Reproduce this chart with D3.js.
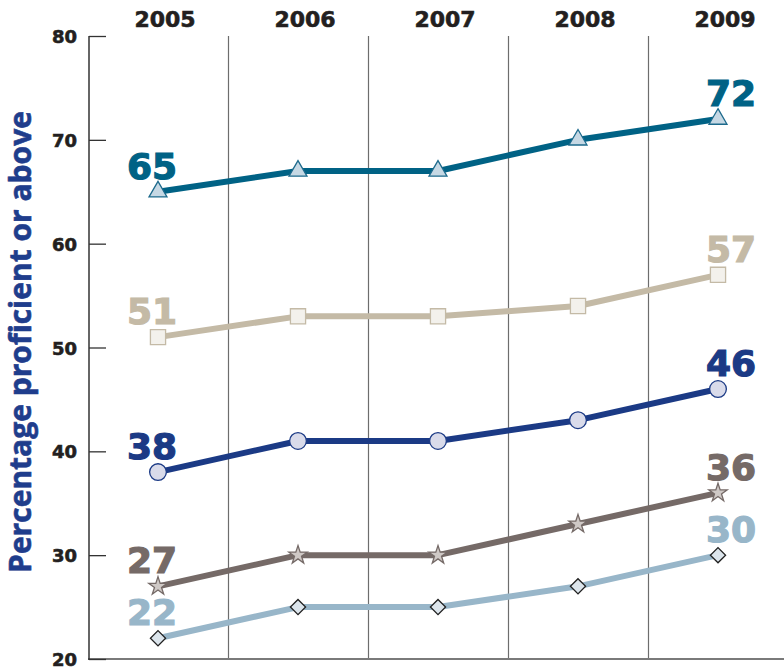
<!DOCTYPE html>
<html><head><meta charset="utf-8">
<script src="https://cdn.jsdelivr.net/npm/d3@7"></script>
<style>body{margin:0;background:#fff}svg{display:block}</style>
</head><body>
<svg id="c" width="784" height="670"></svg>
<script>
const years = ["2005","2006","2007","2008","2009"];
const yTicks = [20,30,40,50,60,70,80];
const seriesA = [65,67,67,70,72];
const seriesB = [51,53,53,54,57];
const seriesC = [38,41,41,43,46];
const seriesD = [27,30,30,33,36];
const seriesE = [22,25,25,27,30];
const yTitle = "Percentage proficient or above";

const series = [
  {vals: seriesA, line:"#006285", fill:"#c6d8e4", stroke:"#1d6a8c", sym:d3.symbolTriangle, size:140, rot:0},
  {vals: seriesB, line:"#c4baa6", fill:"#f3f1ec", stroke:"#c4baa6", sym:d3.symbolSquare, size:230, rot:0},
  {vals: seriesC, line:"#1b3a85", fill:"#d9dbea", stroke:"#1b3a85", sym:d3.symbolCircle, size:220, rot:0},
  {vals: seriesD, line:"#756a67", fill:"#cfc9c6", stroke:"#756a67", sym:d3.symbolStar, size:105, rot:0},
  {vals: seriesE, line:"#98b6c9", fill:"#dce5ec", stroke:"#222", sym:d3.symbolSquare, size:115, rot:45}
];

const svg = d3.select("#c");
const x = d3.scaleBand().domain(years).range([88,788]);
const y = d3.scaleLinear().domain([20,80]).range([659,36]);
const cx = d => x(d) + x.bandwidth()/2;

// vertical gridlines
svg.append("g").selectAll("line").data(years.slice(1)).join("line")
  .attr("x1", d=>x(d)+0.5).attr("x2", d=>x(d)+0.5)
  .attr("y1", y(80)).attr("y2", y(20))
  .attr("stroke","#6d6d6d").attr("stroke-width",1.2);

// bottom axis line
svg.append("line").attr("x1",88).attr("x2",784).attr("y1",y(20)).attr("y2",y(20))
  .attr("stroke","#7a7a7a").attr("stroke-width",2);

// y axis
const yAxis = svg.append("g").attr("transform","translate(89,0)")
  .call(d3.axisRight(y).tickValues(yTicks).tickSize(17).tickFormat(""));
yAxis.select(".domain").remove();
yAxis.selectAll(".tick line").attr("stroke","#333").attr("stroke-width",1.3);
svg.append("line").attr("x1",89).attr("x2",89).attr("y1",y(80)).attr("y2",y(20)+1)
  .attr("stroke","#333").attr("stroke-width",1.5);

// y tick labels
svg.append("g").selectAll("text").data(yTicks).join("text")
  .attr("x",77).attr("y",d=>y(d)+7)
  .attr("text-anchor","end")
  .attr("font-family","DejaVu Sans").attr("font-weight","bold").attr("font-size",18)
  .attr("fill","#231f20").attr("stroke","#231f20").attr("stroke-width",0.6).text(d=>d);

// year labels
svg.append("g").selectAll("text").data(years).join("text")
  .attr("x",d=>cx(d)+7).attr("y",27)
  .attr("text-anchor","middle")
  .attr("font-family","DejaVu Sans").attr("font-weight","bold").attr("font-size",22)
  .attr("fill","#231f20").attr("stroke","#231f20").attr("stroke-width",0.6).text(d=>d);

// y title
svg.append("text")
  .attr("transform","translate(31,342) rotate(-90)")
  .attr("text-anchor","middle")
  .attr("font-family","Open Sans").attr("font-weight","bold").attr("font-size",30)
  .attr("fill","#1f3d8c").attr("stroke","#1f3d8c").attr("stroke-width",0.6).text(yTitle);

const line = d3.line().x((d,i)=>cx(years[i])).y(d=>y(d));

series.forEach(s=>{
  svg.append("path").datum(s.vals).attr("d",line)
    .attr("fill","none").attr("stroke",s.line).attr("stroke-width",6).attr("stroke-linejoin","round");
});
series.forEach(s=>{
  svg.append("g").selectAll("path").data(s.vals).join("path")
    .attr("transform",(d,i)=>`translate(${cx(years[i])},${y(d)}) rotate(${s.rot})`)
    .attr("d",d3.symbol().type(s.sym).size(s.size))
    .attr("fill",s.fill).attr("stroke",s.stroke).attr("stroke-width",1.3);
  const first = s.vals[0], last = s.vals[s.vals.length-1];
  svg.append("text").attr("x",cx(years[0])-31).attr("y",y(first)-13)
    .attr("font-family","DejaVu Sans").attr("font-weight","bold").attr("font-size",36)
    .attr("fill",s.line).attr("stroke",s.line).attr("stroke-width",1.2).text(first);
  svg.append("text").attr("x",cx(years[4])-12).attr("y",y(last)-13)
    .attr("font-family","DejaVu Sans").attr("font-weight","bold").attr("font-size",36)
    .attr("fill",s.line).attr("stroke",s.line).attr("stroke-width",1.2).text(last);
});
</script>
</body></html>
